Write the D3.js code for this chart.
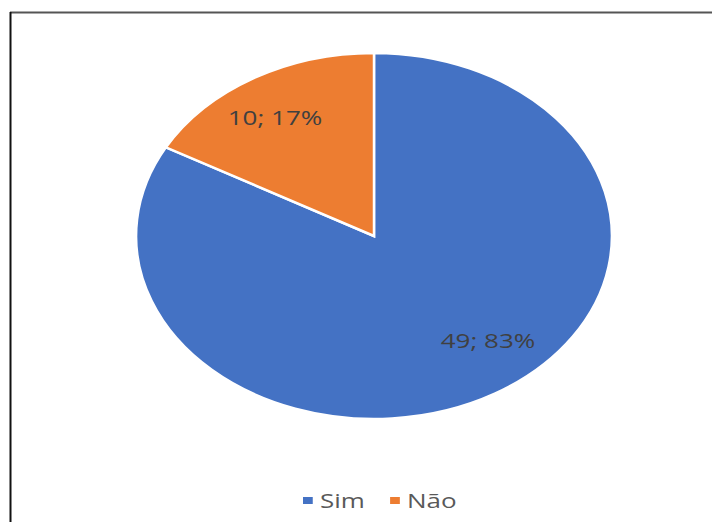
<!DOCTYPE html>
<html>
<head>
<meta charset="utf-8">
<script src="https://cdn.jsdelivr.net/npm/d3@7"></script>
<style>
  html, body { margin: 0; padding: 0; background: #ffffff; }
  svg { display: block; font-family: "Open Sans", "Noto Sans", sans-serif; }
</style>
</head>
<body>
<svg id="chart" width="712" height="522"></svg>
<script>
// Survey answers
const categories = ["Sim", "Não"];
const counts = [49, 10];
const percentLabels = ["83%", "17%"];
const colors = ["#4472C4", "#ED7D31"];

const width = 712, height = 522;
const svg = d3.select("#chart");

// Frame lines (top and left)
svg.append("line").attr("x1", 10).attr("y1", 12.5).attr("x2", width).attr("y2", 12.5)
  .attr("stroke", "#555").attr("stroke-width", 2);
svg.append("line").attr("x1", 10.5).attr("y1", 12).attr("x2", 10.5).attr("y2", height)
  .attr("stroke", "#111").attr("stroke-width", 2);

// The chart is drawn wider than tall: horizontal stretch applied to the pie group
const stretch = 1.3;
const cx = 374, cy = 236, r = 183;

const g = svg.append("g").attr("transform", `translate(${cx},${cy}) scale(${stretch},1)`);

const pie = d3.pie().sort(null).value(d => d.value);
const data = categories.map((c, i) => ({ name: c, value: counts[i], pct: percentLabels[i], color: colors[i] }));
const arcs = pie(data);

const arc = d3.arc().innerRadius(0).outerRadius(r);

g.selectAll("path.slice")
  .data(arcs)
  .enter().append("path")
  .attr("class", "slice")
  .attr("d", arc)
  .attr("fill", d => d.data.color)
  .attr("stroke", "#ffffff")
  .attr("stroke-width", 2.5)
  .attr("stroke-linejoin", "miter")
  .attr("vector-effect", "non-scaling-stroke");

// Data labels: "value; percent"
const labelArc = d3.arc().innerRadius(0).outerRadius(r * 1.5);
const labelShift = [[18, -14], [-6.5, -1]];
g.selectAll("text.lbl")
  .data(arcs)
  .enter().append("text")
  .attr("class", "lbl")
  .attr("transform", (d, i) => {
    const [x, y] = labelArc.centroid(d);
    return `translate(${x + labelShift[i][0]},${y + labelShift[i][1]})`;
  })
  .attr("text-anchor", "middle")
  .attr("dominant-baseline", "central")
  .attr("font-size", 20)
  .attr("fill", "#404040")
  .text(d => `${d.data.value}; ${d.data.pct}`);

// Legend
const legend = svg.append("g").attr("transform", `translate(303,500) scale(${stretch},1)`);
const legendX = [0, 67];
const items = legend.selectAll("g.item")
  .data(data)
  .enter().append("g")
  .attr("class", "item")
  .attr("transform", (d, i) => `translate(${legendX[i]},0)`);
items.append("rect")
  .attr("x", 0).attr("y", -3).attr("width", 7.5).attr("height", 7)
  .attr("fill", d => d.color);
items.append("text")
  .attr("x", 13).attr("y", 0)
  .attr("dominant-baseline", "central")
  .attr("font-size", 20)
  .attr("fill", "#595959")
  .text(d => d.name);
</script>
</body>
</html>
